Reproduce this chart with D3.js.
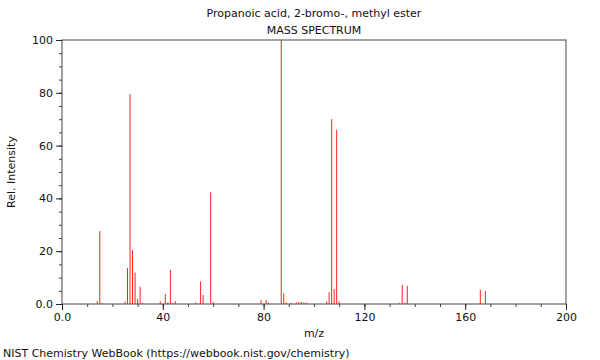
<!DOCTYPE html>
<html><head><meta charset="utf-8">
<script src="https://cdn.jsdelivr.net/npm/d3@7"></script>
<style>body{margin:0;background:#fff}text{font-family:"DejaVu Sans",sans-serif}</style>
</head><body><svg id="c" width="600" height="360"></svg>
<script>
const mz = [14,15,16,25,26,27,28,29,30,31,32,39,41,42,43,44,45,53,55,56,59,60,79,81,82,87,88,89,91,93,94,95,96,97,105,106,107,108,109,110,134,135,136,137,166,168];
const intensity = [1.1,27.6,0.3,1,13.6,79.5,20.4,11.9,2.0,6.6,0.4,1,3.8,0.6,12.9,0.4,1,0.6,8.5,3.4,42.3,0.8,1.5,1.5,0.6,100,4.0,0.5,0.4,0.6,0.8,0.8,0.6,0.5,1,4.5,70.0,5.7,66.0,1,0.4,7.2,0.5,6.9,5.4,4.9];
const xTicks = [0,40,80,120,160,200];
const yTicks = [0,20,40,60,80,100];
const title = "Propanoic acid, 2-bromo-, methyl ester";
const subtitle = "MASS SPECTRUM";

const svg = d3.select("#c");
const L=62,R=566,T=40,B=304;
const x = d3.scaleLinear().domain([0,200]).range([L,R]);
const y = d3.scaleLinear().domain([0,100]).range([B,T]);
const axisCol="#444";

// frame
svg.append("rect").attr("x",L).attr("y",T).attr("width",R-L).attr("height",B-T)
  .attr("fill","none").attr("stroke",axisCol).attr("stroke-width",1);

// peaks
svg.append("g").selectAll("line").data(mz.map((m,i)=>({m,v:intensity[i]}))).join("line")
  .attr("x1",d=>x(d.m)).attr("x2",d=>x(d.m)).attr("y1",y(0)).attr("y2",d=>y(d.v))
  .attr("stroke","#ff2020").attr("stroke-width",1);

// minor ticks
const gx = svg.append("g").attr("transform",`translate(0,${B})`);
gx.call(d3.axisBottom(x).tickValues(d3.range(0,201,10)).tickSize(3).tickFormat(""))
  .call(g=>g.select(".domain").remove()).selectAll("line").attr("stroke",axisCol);
const gy = svg.append("g").attr("transform",`translate(${L},0)`);
gy.call(d3.axisLeft(y).tickValues(d3.range(0,101,5)).tickSize(3).tickFormat(""))
  .call(g=>g.select(".domain").remove()).selectAll("line").attr("stroke",axisCol);

// major ticks
const fmt = d=> d===0 ? "0.0" : String(d);
const gx2 = svg.append("g").attr("transform",`translate(0,${B})`);
gx2.call(d3.axisBottom(x).tickValues(xTicks).tickSize(6).tickPadding(3).tickFormat(fmt))
  .call(g=>g.select(".domain").remove());
gx2.selectAll("line").attr("stroke","#222");
gx2.selectAll("text").attr("font-size",11).attr("fill","#111").attr("font-family","DejaVu Sans");
const gy2 = svg.append("g").attr("transform",`translate(${L},0)`);
gy2.call(d3.axisLeft(y).tickValues(yTicks).tickSize(6).tickPadding(3).tickFormat(fmt))
  .call(g=>g.select(".domain").remove());
gy2.selectAll("line").attr("stroke","#222");
gy2.selectAll("text").attr("font-size",11).attr("fill","#111").attr("font-family","DejaVu Sans");

// texts
svg.append("text").attr("x",314).attr("y",17).attr("text-anchor","middle").attr("font-size",11).attr("fill","#111").text(title);
svg.append("text").attr("x",314).attr("y",34).attr("text-anchor","middle").attr("font-size",11).attr("fill","#111").text(subtitle);
svg.append("text").attr("x",314).attr("y",337).attr("text-anchor","middle").attr("font-size",11).attr("fill","#111").text("m/z");
svg.append("text").attr("transform","translate(15,172) rotate(-90)").attr("text-anchor","middle").attr("font-size",11).attr("fill","#111").text("Rel. Intensity");
svg.append("text").attr("x",3).attr("y",357).attr("font-size",11).attr("fill","#111").text("NIST Chemistry WebBook (https://webbook.nist.gov/chemistry)");
</script></body></html>
